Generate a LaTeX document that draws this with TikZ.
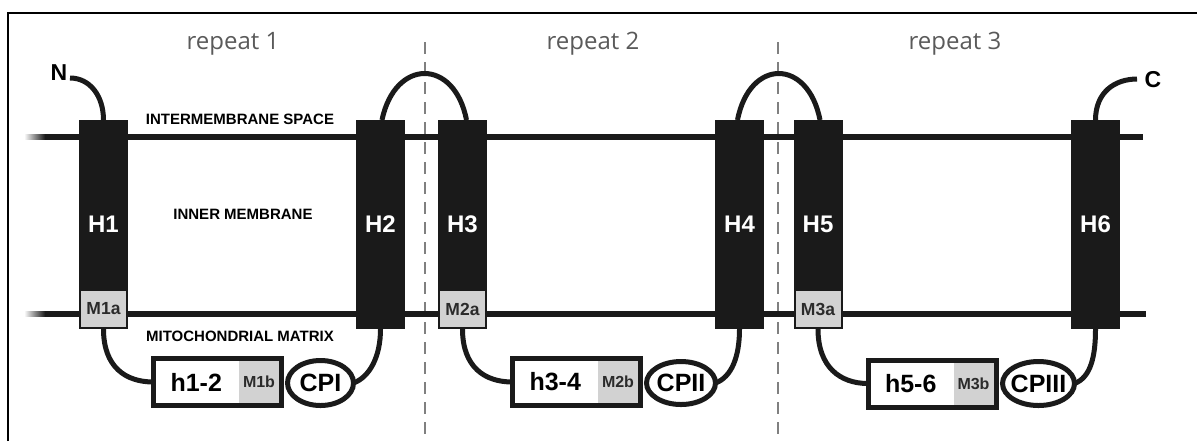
\documentclass[tikz,border=0pt]{standalone}
\usepackage{fontspec}
\setmainfont{Liberation Sans}
\newfontfamily\repeatfont{Open Sans}
\usetikzlibrary{calc,shapes.geometric}
\definecolor{helixBlack}{HTML}{1A1A1A}
\definecolor{motifGray}{HTML}{D2D2D2}
\definecolor{motifText}{HTML}{2B2B2B}
\definecolor{repeatGray}{HTML}{5A5A5A}
\definecolor{dashGray}{HTML}{808080}
\tikzset{
  % transmembrane helices, plain black bars
  mem/helix/.style={
    fill=helixBlack, minimum width=24.5pt, minimum height=104.5pt,
    inner sep=0pt, outer sep=0pt, text=white,
    font=\fontsize{12}{14}\selectfont\bfseries
  },
  % motif patch at the matrix end of a helix
  mem/motif/.style={
    draw=helixBlack, fill=motifGray, line width=1pt, minimum width=23.5pt,
    minimum height=19pt, inner sep=0pt, outer sep=0pt, text=motifText,
    font=\fontsize{8.75}{10}\selectfont\bfseries
  },
  % matrix helix box and its motif part
  mem/domain/.style={
    draw=helixBlack, fill=white, line width=2.5pt, minimum width=64pt,
    minimum height=23.5pt, inner sep=0pt, outer sep=0pt
  },
  mem/motifin/.style={
    fill=motifGray, minimum width=20pt, minimum height=21pt, inner sep=0pt,
    outer sep=0pt, text=motifText, font=\fontsize{8}{9}\selectfont\bfseries
  },
  mem/dlabel/.style={font=\fontsize{12.5}{14}\selectfont\bfseries, inner sep=0pt},
  % contact point ellipses
  mem/cp/.style={
    ellipse, draw=helixBlack, fill=white, line width=2.5pt, inner sep=-1.5pt,
    outer sep=0pt, font=\fontsize{12.5}{14}\selectfont\bfseries
  },
  % loops between helices
  mem/loop/.style={draw=helixBlack, line width=2.5pt},
  mem/line/.style={draw=helixBlack, line width=2.75pt},
  mem/divider/.style={draw=dashGray, line width=1pt, dash pattern=on 6pt off 4pt},
  mem/region/.style={font=\fontsize{7.5}{9}\selectfont\bfseries, inner sep=0pt},
  mem/repeat/.style={font=\repeatfont\fontsize{12}{14}\selectfont, text=repeatGray, inner sep=0pt},
  mem/term/.style={font=\fontsize{11.5}{13}\selectfont\bfseries, inner sep=1pt},
}

\begin{document}
\begin{tikzpicture}[x=0.5pt,y=-0.5pt]
  \useasboundingbox (0,0) rectangle (1197,441);
  % frame
  \draw[line width=1.2pt] (8,441) -- (8,13) -- (1197,13);
  % repeat borders
  \coordinate (d1a) at (425,42);
  \coordinate (d1b) at (425,441);
  \coordinate (d2a) at (778,42);
  \coordinate (d2b) at (778,436);
  \draw[mem/divider] (d1a) -- (d1b);
  \draw[mem/divider] (d2a) -- (d2b);
  \foreach \n/\x in {1/233,2/593,3/955}
    \node[mem/repeat, anchor=base] (rep\n) at (\x,49) {repeat \n};
  % membrane
  \shade[left color=black!4, right color=helixBlack] (25,134.25) rectangle (45,139.75);
  \shade[left color=black!4, right color=helixBlack] (25,311.25) rectangle (45,316.75);
  \coordinate (imsL) at (45,137);
  \coordinate (imsR) at (1143,137);
  \coordinate (mtxL) at (45,314);
  \coordinate (mtxR) at (1146,314);
  \draw[mem/line] (imsL) -- (imsR);
  \draw[mem/line] (mtxL) -- (mtxR);
  \node[mem/region, anchor=base] (ims) at (240,124) {INTERMEMBRANE SPACE};
  \node[mem/region, anchor=base] (imm) at (243,219) {INNER MEMBRANE};
  \node[mem/region, anchor=base] (mtx) at (240,341) {MITOCHONDRIAL MATRIX};
  % helices
  \foreach \n/\x in {1/103.5,2/380.5,3/462.5,4/739.5,5/818,6/1095.5}
    \node[mem/helix] (h\n) at (\x,224.5) {H\n};
  \foreach \n/\m in {1/1,3/2,5/3}
    \node[mem/motif, anchor=south] (m\m a) at ($(h\n.south)+(0,0.5pt)$) {M\m a};
  % matrix side
  \foreach \n/\x/\y/\t in {1/217.5/382/h1-2,2/576.5/382/h3-4,3/932/383.5/h5-6}{
    \node[mem/domain] (hb\n) at (\x,\y) {};
    \node[mem/motifin, anchor=east] (mb\n) at ($(hb\n.east)+(-1.25pt,0)$) {M\n b};
    \node[mem/dlabel] (ht\n) at ($(hb\n.west)!0.5!(mb\n.west)$) {\t};
  }
  \node[mem/cp, minimum width=33pt, minimum height=22.5pt] (cp1) at (320.5,383) {CPI};
  \node[mem/cp, minimum width=34.5pt, minimum height=21.5pt] (cp2) at (681,383) {CPII};
  \node[mem/cp, minimum width=36pt, minimum height=22pt] (cp3) at (1038.5,383.5) {CPIII};
  % termini
  \node[mem/term, anchor=base] (nlab) at (59,80) {N};
  \node[mem/term, anchor=base] (clab) at (1153,87) {C};
  \coordinate (nend) at (70,78);
  \coordinate (cend) at (1137,79);
  \draw[mem/loop] (nend) .. controls ++(20,0) and ++(0,-24) .. (h1.north);
  \draw[mem/loop] (h6.north) .. controls ++(0,-28) and ++(-22,0) .. (cend);
  % loops
  \draw[mem/loop] ($(h2.north)+(0.75pt,0)$) .. controls ++(13,-62) and ++(-12,-62) .. ($(h3.north)+(2pt,0)$);
  \draw[mem/loop] ($(h4.north)+(-1pt,0)$) .. controls ++(12,-62) and ++(-12,-62) .. ($(h5.north)+(1pt,0)$);
  \foreach \a/\b/\i in {1/2/1,3/4/2,5/6/3}{
    \draw[mem/loop] (h\a.south) .. controls ++(0,38) and ++(-28,0) .. (hb\i.west);
    \draw[mem/loop] (cp\i.east) .. controls ++(16,-6) and ++(0,28) .. (h\b.south);
  }
\end{tikzpicture}
\end{document}
